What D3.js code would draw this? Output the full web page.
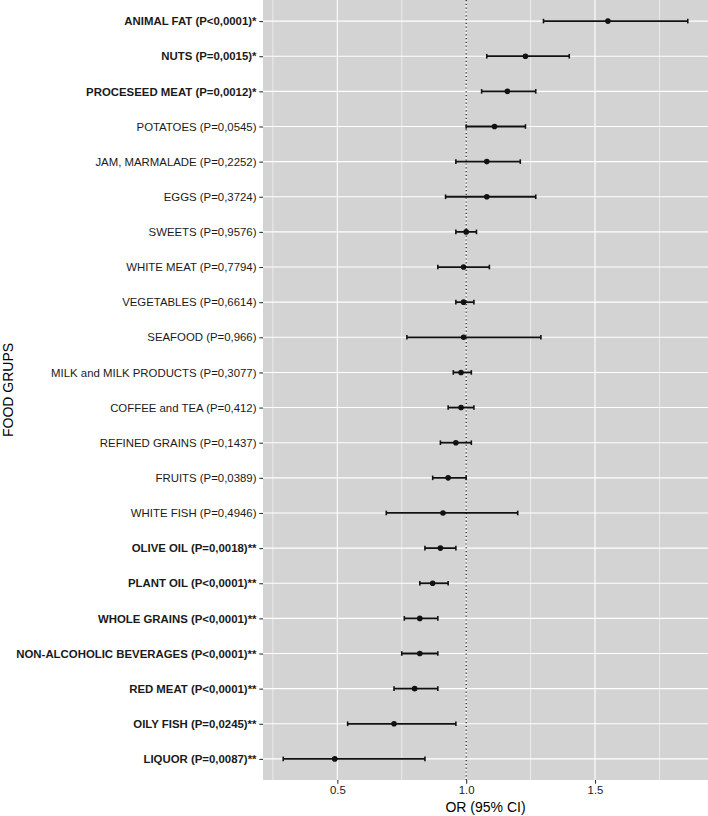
<!DOCTYPE html>
<html><head><meta charset="utf-8">
<script src="https://cdn.jsdelivr.net/npm/d3@7"></script>
<style>body{margin:0;background:#fff}svg{display:block}</style>
</head><body><svg id="c" width="708" height="816"></svg>
<script>
const labels = ["ANIMAL FAT (P<0,0001)*","NUTS (P=0,0015)*","PROCESEED MEAT (P=0,0012)*","POTATOES (P=0,0545)","JAM, MARMALADE (P=0,2252)","EGGS (P=0,3724)","SWEETS (P=0,9576)","WHITE MEAT (P=0,7794)","VEGETABLES (P=0,6614)","SEAFOOD (P=0,966)","MILK and MILK PRODUCTS (P=0,3077)","COFFEE and TEA (P=0,412)","REFINED GRAINS (P=0,1437)","FRUITS (P=0,0389)","WHITE FISH (P=0,4946)","OLIVE OIL (P=0,0018)**","PLANT OIL (P<0,0001)**","WHOLE GRAINS (P<0,0001)**","NON-ALCOHOLIC BEVERAGES (P<0,0001)**","RED MEAT (P<0,0001)**","OILY FISH (P=0,0245)**","LIQUOR (P=0,0087)**"];
const bold = [1,1,1,0,0,0,0,0,0,0,0,0,0,0,0,1,1,1,1,1,1,1];
const orValues = [1.55,1.23,1.16,1.11,1.08,1.08,1.00,0.99,0.99,0.99,0.98,0.98,0.96,0.93,0.91,0.90,0.87,0.82,0.82,0.80,0.72,0.49];
const ciLow = [1.30,1.08,1.06,1.00,0.96,0.92,0.96,0.89,0.96,0.77,0.95,0.93,0.90,0.87,0.69,0.84,0.82,0.76,0.75,0.72,0.54,0.29];
const ciHigh = [1.86,1.40,1.27,1.23,1.21,1.27,1.04,1.09,1.03,1.29,1.02,1.03,1.02,1.00,1.20,0.96,0.93,0.89,0.89,0.89,0.96,0.84];
const xTicks = [0.5,1.0,1.5];
const xMinor = [0.25,0.75,1.25,1.75];

const svg = d3.select("#c");
const m = {l:263, r:708, t:0, b:780};
const lo = d3.min(ciLow), hi = d3.max(ciHigh), pad = (hi-lo)*0.05;
const x = d3.scaleLinear().domain([lo-pad, hi+pad]).range([m.l, m.r]);
const y = d3.scalePoint().domain(labels).range([m.t, m.b]).padding(0.6);

svg.append("rect").attr("x",m.l).attr("y",m.t).attr("width",m.r-m.l).attr("height",m.b-m.t).attr("fill","#d3d3d3");
const g = svg.append("g");
g.selectAll(".mn").data(xMinor).join("line").attr("x1",d=>x(d)).attr("x2",d=>x(d)).attr("y1",m.t).attr("y2",m.b).attr("stroke","#fff").attr("stroke-width",0.55);
g.selectAll(".mj").data(xTicks).join("line").attr("x1",d=>x(d)).attr("x2",d=>x(d)).attr("y1",m.t).attr("y2",m.b).attr("stroke","#fff").attr("stroke-width",1.1);
g.selectAll(".hy").data(labels).join("line").attr("x1",m.l).attr("x2",m.r).attr("y1",d=>y(d)).attr("y2",d=>y(d)).attr("stroke","#fff").attr("stroke-width",1.1);

// reference line
svg.append("line").attr("x1",x(1)).attr("x2",x(1)).attr("y1",m.t).attr("y2",m.b).attr("stroke","#000").attr("stroke-width",1.1).attr("stroke-dasharray","1.2,2.6");

const rows = labels.map((l,i)=>({l, v:orValues[i], a:ciLow[i], b:ciHigh[i]}));
const eb = svg.append("g");
eb.selectAll(".h").data(rows).join("line").attr("x1",d=>x(d.a)).attr("x2",d=>x(d.b)).attr("y1",d=>y(d.l)).attr("y2",d=>y(d.l)).attr("stroke","#111").attr("stroke-width",1.8);
eb.selectAll(".ca").data(rows).join("line").attr("x1",d=>x(d.a)).attr("x2",d=>x(d.a)).attr("y1",d=>y(d.l)-2.3).attr("y2",d=>y(d.l)+2.3).attr("stroke","#111").attr("stroke-width",1.6);
eb.selectAll(".cb").data(rows).join("line").attr("x1",d=>x(d.b)).attr("x2",d=>x(d.b)).attr("y1",d=>y(d.l)-2.3).attr("y2",d=>y(d.l)+2.3).attr("stroke","#111").attr("stroke-width",1.6);
eb.selectAll("circle").data(rows).join("circle").attr("cx",d=>x(d.v)).attr("cy",d=>y(d.l)).attr("r",2.8).attr("fill","#111");

// y axis
const ya = svg.append("g").attr("transform",`translate(${m.l},0)`)
  .call(d3.axisLeft(y).tickSize(3.7).tickPadding(2.8));
ya.select(".domain").remove();
ya.selectAll(".tick line").attr("stroke","#333").attr("stroke-width",1.1);
ya.selectAll(".tick text").attr("fill","#1a1a1a").style("font-family","Liberation Sans, Arial, sans-serif").style("font-size","11.4px")
  .style("font-weight",(d,i)=>bold[i]?"bold":"normal");

// x axis
const xa = svg.append("g").attr("transform",`translate(0,${m.b})`)
  .call(d3.axisBottom(x).tickValues(xTicks).tickFormat(d3.format(".1f")).tickSize(3.7).tickPadding(2.5));
xa.select(".domain").remove();
xa.selectAll(".tick line").attr("stroke","#333").attr("stroke-width",1.1);
xa.selectAll(".tick text").attr("fill","#1a1a1a").style("font-family","Liberation Sans, Arial, sans-serif").style("font-size","11.4px");

svg.append("text").attr("x",(m.l+m.r)/2).attr("y",812).attr("text-anchor","middle")
  .style("font-family","Liberation Sans, Arial, sans-serif").style("font-size","14px").attr("fill","#000").text("OR (95% CI)");
svg.append("text").attr("transform",`translate(13,${(m.t+m.b)/2}) rotate(-90)`).attr("text-anchor","middle")
  .style("font-family","Liberation Sans, Arial, sans-serif").style("font-size","14px").attr("fill","#000").text("FOOD GRUPS");
</script></body></html>
